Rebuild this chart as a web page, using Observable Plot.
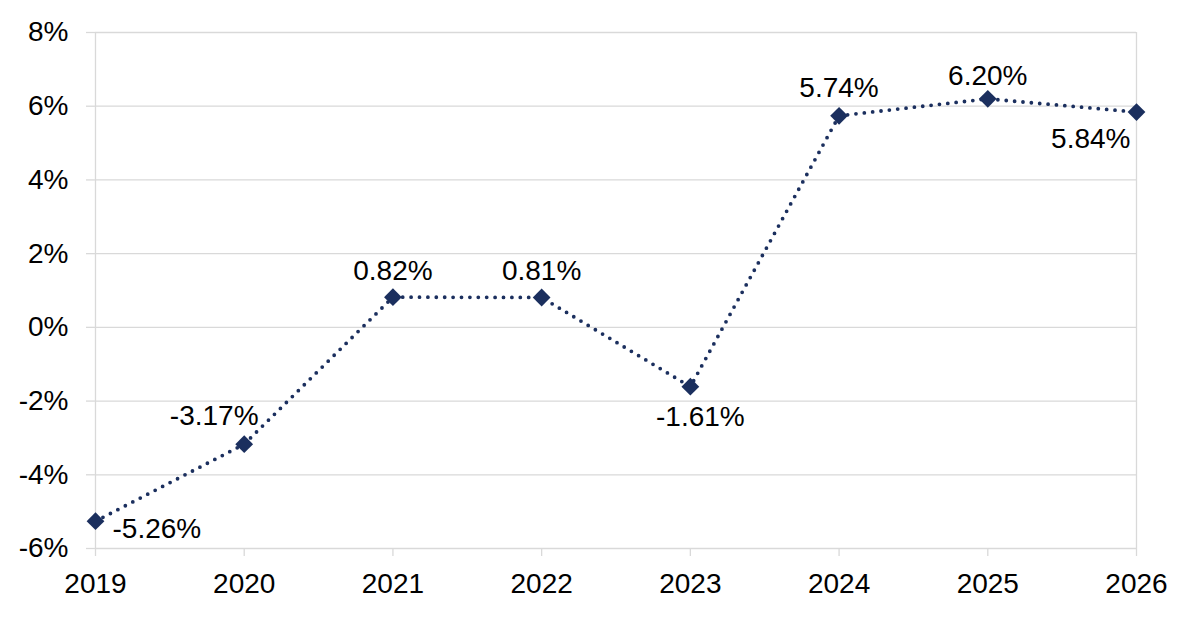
<!DOCTYPE html>
<html>
<head>
<meta charset="utf-8">
<script src="https://cdn.jsdelivr.net/npm/d3@7"></script>
<script src="https://cdn.jsdelivr.net/npm/@observablehq/plot@0.6"></script>
<style>
  html, body { margin: 0; padding: 0; background: #fff; }
  #chart { width: 1200px; height: 618px; }
</style>
</head>
<body>
<div id="chart"></div>
<script>
// ---- data ----
const years = [2019, 2020, 2021, 2022, 2023, 2024, 2025, 2026];
const growth = [-5.26, -3.17, 0.82, 0.81, -1.61, 5.74, 6.20, 5.84];
const yTicks = [-6, -4, -2, 0, 2, 4, 6, 8];
const xTicks = [2019, 2020, 2021, 2022, 2023, 2024, 2025, 2026];

// label placement relative to each point (presentation only)
const placement = [
  {dx: 17, dy: 8, anchor: "start"},
  {dx: -30, dy: -28, anchor: "middle"},
  {dx: 0, dy: -26, anchor: "middle"},
  {dx: 0, dy: -26, anchor: "middle"},
  {dx: 10, dy: 30, anchor: "middle"},
  {dx: 0, dy: -28, anchor: "middle"},
  {dx: 0, dy: -23, anchor: "middle"},
  {dx: -6, dy: 27, anchor: "end"}
];

const data = years.map((year, i) => ({year, value: growth[i], label: growth[i].toFixed(2) + "%"}));

const navy = "#1b2f5e";
const grid = "#d9d9d9";

const chart = Plot.plot({
  width: 1200,
  height: 618,
  marginLeft: 95,
  marginRight: 64,
  marginTop: 32,
  marginBottom: 70,
  style: {fontFamily: "'Liberation Sans', Arial, sans-serif", fontSize: "28px", color: "#000", background: "#fff"},
  x: {domain: [2019, 2026], label: null},
  y: {domain: [-6, 8], label: null},
  marks: [
    Plot.gridY(yTicks, {stroke: grid, strokeOpacity: 1, strokeWidth: 1.3}),
    Plot.ruleX([2019, 2026], {y1: -6, y2: 8, stroke: grid, strokeWidth: 1.3}),
    Plot.axisY(yTicks, {label: null, tickSize: 9, tickPadding: 18, stroke: grid, strokeWidth: 1.3, fill: "#000", fontSize: 28, tickFormat: d => d + "%"}),
    Plot.axisX(xTicks, {label: null, tickSize: 8, tickPadding: 17, stroke: grid, strokeWidth: 1.3, fill: "#000", fontSize: 28, tickFormat: d => String(d)}),
    Plot.line(data, {x: "year", y: "value", stroke: navy, strokeWidth: 3.8, strokeDasharray: "0,8.4", strokeLinecap: "round"}),
    Plot.dot(data, {x: "year", y: "value", symbol: "diamond2", r: 8, fill: navy, stroke: "none"}),
    ...data.map((d, i) => Plot.text([d], {
      x: "year", y: "value", text: "label",
      dx: placement[i].dx, dy: placement[i].dy, textAnchor: placement[i].anchor,
      fill: "#000", fontSize: 28
    }))
  ]
});
document.getElementById("chart").appendChild(chart);
</script>
</body>
</html>
